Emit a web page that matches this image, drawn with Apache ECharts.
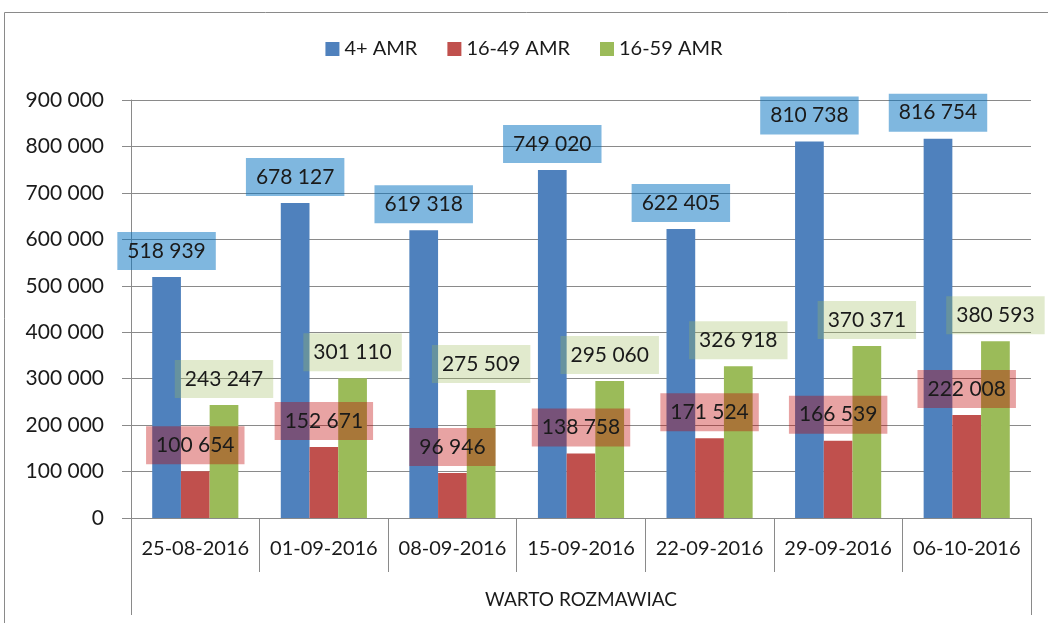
<!DOCTYPE html>
<html>
<head>
<meta charset="utf-8">
<script src="https://cdn.jsdelivr.net/npm/echarts@6/dist/echarts.min.js"></script>
<style>
html,body{margin:0;padding:0;background:#fff;}
#main{width:1048px;height:623px;}
</style>
</head>
<body>
<div id="main"></div>
<script>
// dane wykresu
var kategorie = ['25-08-2016', '01-09-2016', '08-09-2016', '15-09-2016', '22-09-2016', '29-09-2016', '06-10-2016'];
var grupa = ['WARTO ROZMAWIAC'];
var serie = ['4+ AMR', '16-49 AMR', '16-59 AMR'];
var amr4 = [518939, 678127, 619318, 749020, 622405, 810738, 816754];
var amr1649 = [100654, 152671, 96946, 138758, 171524, 166539, 222008];
var amr1659 = [243247, 301110, 275509, 295060, 326918, 370371, 380593];

var kolory = ['#4F81BD', '#C0504D', '#9BBB59'];
var tlaEtykiet = ['rgba(0,112,192,0.5)', 'rgba(192,0,0,0.36)', 'rgba(155,187,89,0.3)'];
var czcionka = 'Lato';

function spacja(v) {
	return String(v).replace(/\B(?=(\d{3})+(?!\d))/g, ' ');
}

function seria(i, dane) {
	return {
		name: serie[i],
		type: 'bar',
		xAxisIndex: 0,
		data: dane,
		barGap: '0%',
		barCategoryGap: '33%',
		itemStyle: { color: kolory[i] },
		label: {
			show: true,
			position: 'top',
			distance: 7,
			formatter: function(p) { return spacja(p.value); },
			fontFamily: czcionka,
			fontSize: 21,
			lineHeight: 22,
			color: '#1a1a1a',
			backgroundColor: tlaEtykiet[i],
			padding: [8, 10]
		}
	};
}

var myChart = echarts.init(document.getElementById('main'));
myChart.setOption({
	animation: false,
	textStyle: { fontFamily: czcionka },
	graphic: [{
		type: 'rect',
		shape: { x: 4.5, y: 12.5, width: 1200, height: 800 },
		style: { fill: 'none', stroke: '#8a8a8a', lineWidth: 1 },
		silent: true
	}],
	legend: {
		top: 34,
		left: 'center',
		icon: 'rect',
		itemWidth: 14,
		itemHeight: 14,
		itemGap: 30,
		textStyle: { fontSize: 20, color: '#1a1a1a', fontFamily: czcionka },
		data: serie
	},
	grid: { left: 131, right: 17, top: 100, bottom: 105, containLabel: false },
	xAxis: [{
		type: 'category',
		data: kategorie,
		position: 'bottom',
		axisLine: { lineStyle: { color: '#8a8a8a' } },
		axisTick: { show: true, interval: 0, length: 54, lineStyle: { color: '#8a8a8a' } },
		axisLabel: { interval: 0, margin: 21, fontSize: 20, color: '#1a1a1a', fontFamily: czcionka }
	}, {
		type: 'category',
		data: grupa,
		position: 'bottom',
		offset: 0,
		axisLine: { show: false },
		axisTick: { show: true, length: 97, lineStyle: { color: '#8a8a8a' } },
		axisLabel: { margin: 72, fontSize: 19, color: '#1a1a1a', fontFamily: czcionka }
	}],
	yAxis: {
		type: 'value',
		min: 0,
		max: 900000,
		interval: 100000,
		axisLine: { show: true, lineStyle: { color: '#8a8a8a' } },
		axisTick: { show: true, length: 9, lineStyle: { color: '#8a8a8a' } },
		splitLine: { lineStyle: { color: '#8a8a8a' } },
		axisLabel: {
			margin: 27,
			fontSize: 21,
			color: '#1a1a1a',
			fontFamily: czcionka,
			formatter: function(v) { return spacja(v); }
		}
	},
	series: [seria(0, amr4), seria(1, amr1649), seria(2, amr1659)]
});
</script>
</body>
</html>
